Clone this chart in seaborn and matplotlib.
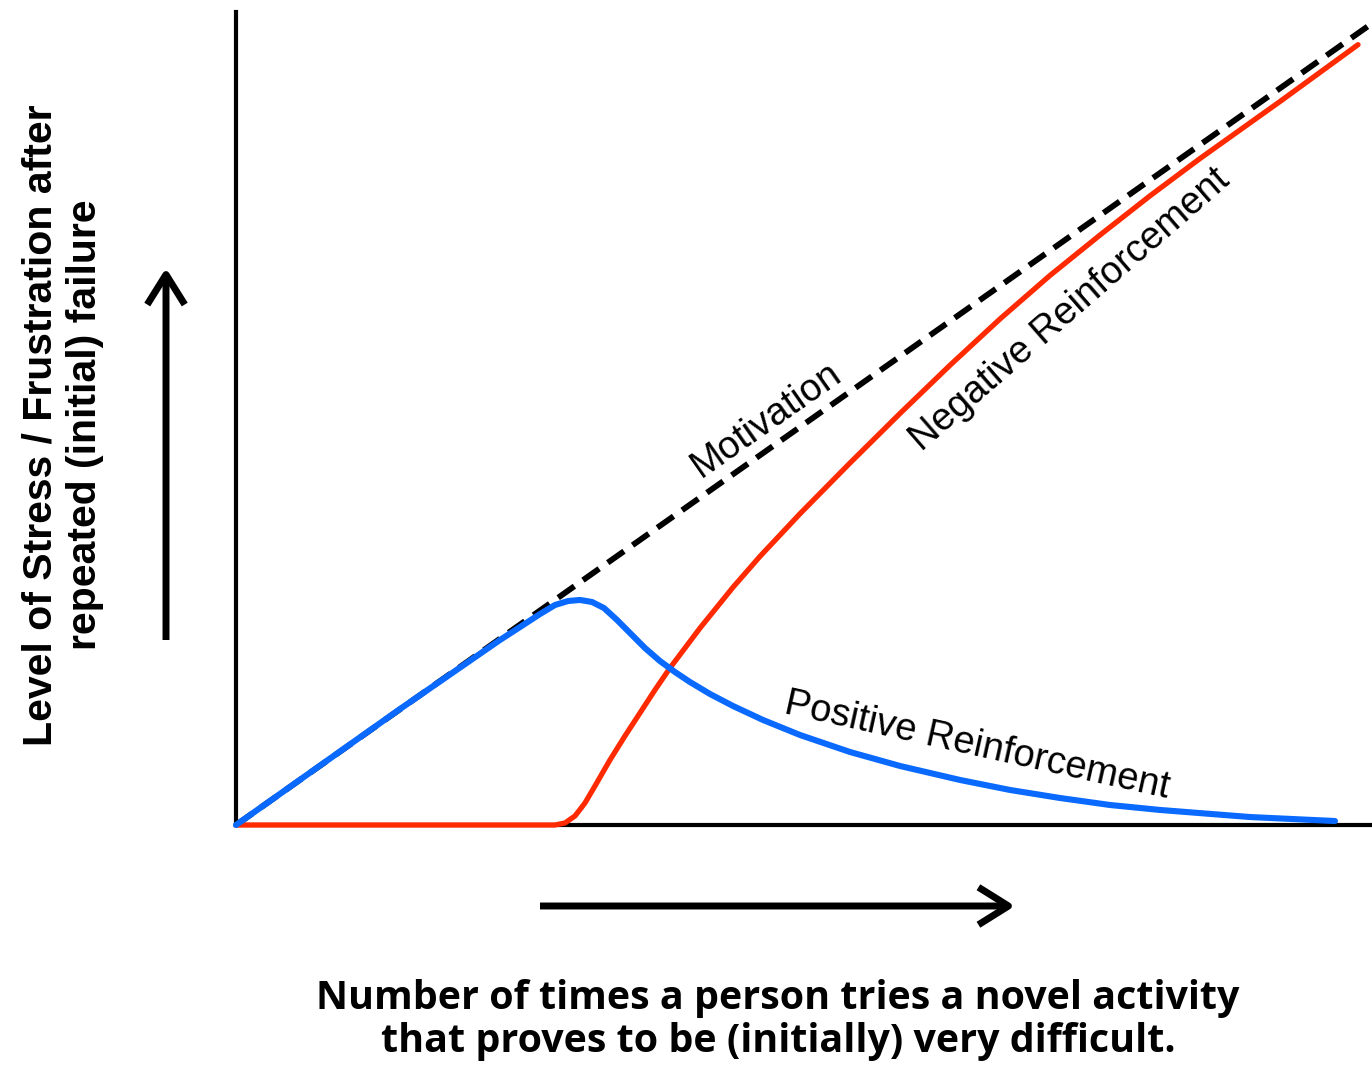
import numpy as np
import pandas as pd
import matplotlib
matplotlib.use('Agg')
import matplotlib.pyplot as plt
import seaborn as sns

# values (x: tries, y: stress level, both 0..10)
motivation_x = [0.0, 10.0]
motivation_y = [0.0, 9.86]

positive_x = [0.0, 1.444, 2.324, 2.500, 2.676, 2.808, 2.923, 3.028, 3.134, 3.239, 3.354,
              3.468, 3.600, 3.732, 3.864, 3.996, 4.173, 4.375, 4.639, 4.965, 5.405,
              5.845, 6.373, 6.813, 7.254, 7.694, 8.134, 8.926, 9.674]
positive_y = [0.0, 1.427, 2.276, 2.435, 2.595, 2.706, 2.755, 2.768, 2.743, 2.669, 2.522,
              2.362, 2.177, 2.017, 1.882, 1.759, 1.611, 1.464, 1.292, 1.107, 0.898,
              0.726, 0.554, 0.431, 0.332, 0.246, 0.185, 0.098, 0.049]

negative_x = [0.0, 2.808, 2.896, 2.984, 3.072, 3.160, 3.292, 3.424, 3.556, 3.688, 3.820,
              4.085, 4.375, 4.613, 4.965, 5.405, 5.845, 6.285, 6.725, 7.165, 7.606,
              8.046, 8.486, 9.190, 9.877]
negative_y = [0.0, 0.0, 0.025, 0.111, 0.271, 0.480, 0.800, 1.095, 1.378, 1.661, 1.931,
              2.423, 2.924, 3.305, 3.829, 4.453, 5.062, 5.655, 6.224, 6.759, 7.257,
              7.739, 8.198, 8.899, 9.598]

xlabel = "Number of times a person tries a novel activity\nthat proves to be (initially) very difficult."
ylabel = "Level of Stress / Frustration after\nrepeated (initial) failure"

sns.set_style('white')
plt.rcParams['font.family'] = ['Liberation Sans', 'DejaVu Sans']
plt.rcParams['text.color'] = 'black'

W, H = 1372, 1066
fig = plt.figure(figsize=(W / 100, H / 100), dpi=100)
ax = fig.add_axes([236 / W, 1 - 825 / H, (W - 236) / W, (825 - 12) / H])

sns.lineplot(x=motivation_x, y=motivation_y, ax=ax, color='black', lw=4.2,
             linestyle=(0, (3.4, 1.8)), zorder=3, clip_on=False)
sns.lineplot(x=negative_x, y=negative_y, ax=ax, color='#ff2a00', lw=3.8,
             zorder=4, clip_on=False, errorbar=None)
sns.lineplot(x=positive_x, y=positive_y, ax=ax, color='#0a6aff', lw=4.4,
             zorder=5, clip_on=False, errorbar=None)

ax.set_xlim(0, 10)
ax.set_ylim(0, 10)
ax.set_xticks([])
ax.set_yticks([])
for s in ['top', 'right']:
    ax.spines[s].set_visible(False)
for s in ['left', 'bottom']:
    ax.spines[s].set_linewidth(3)
    ax.spines[s].set_color('black')

# curve labels
lab = dict(transform=fig.transFigure, ha='center', va='center',
           rotation_mode='anchor', fontsize=27.5, color='black')
ax.text(767 / W, 1 - 420 / H, "Motivation", rotation=35, **lab)
ax.text(1070 / W, 1 - 310 / H, "Negative Reinforcement", rotation=41, **lab)
ax.text(977 / W, 1 - 746 / H, "Positive Reinforcement", rotation=-12.5, **lab)

# axis labels
fig.text(63 / W, 1 - 425 / H, ylabel, rotation=90, ha='center', va='center',
         multialignment='center', fontsize=29.5, fontweight='bold', linespacing=1.2,
         color='black')
fig.text(778 / W, 1 - 1020 / H, xlabel, ha='center', va='center',
         multialignment='center', fontsize=28.4, fontweight='bold', linespacing=1.15,
         family=['Open Sans', 'DejaVu Sans'], color='black')

# direction arrows
arrow = dict(arrowstyle='->,head_length=0.8,head_width=0.5', lw=5, color='black',
             mutation_scale=27, shrinkA=0, shrinkB=0, capstyle='butt')
ax.annotate('', xy=(166 / W, 1 - 268 / H), xytext=(166 / W, 1 - 640 / H),
            xycoords='figure fraction', textcoords='figure fraction',
            arrowprops=arrow, annotation_clip=False)
ax.annotate('', xy=(1015 / W, 1 - 906 / H), xytext=(540 / W, 1 - 906 / H),
            xycoords='figure fraction', textcoords='figure fraction',
            arrowprops=arrow, annotation_clip=False)

fig.savefig('out.png', dpi=100)
